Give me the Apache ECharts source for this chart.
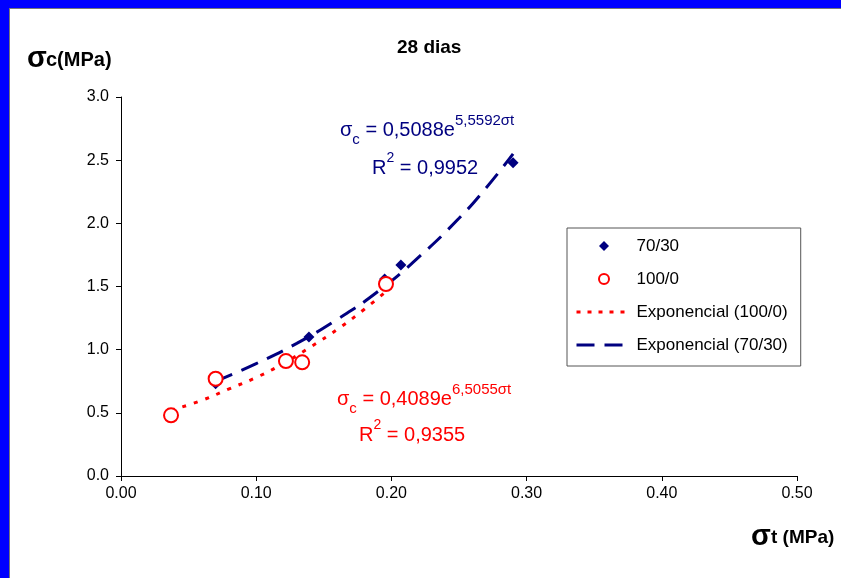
<!DOCTYPE html>
<html>
<head>
<meta charset="utf-8">
<script src="https://cdn.jsdelivr.net/npm/echarts@6/dist/echarts.min.js"></script>
<style>
html,body{margin:0;padding:0;background:#fff;}
#c{width:841px;height:578px;}
</style>
</head>
<body>
<div id="c"></div>
<script>
// ---- data ----
const xTicks = [0.0, 0.1, 0.2, 0.3, 0.4, 0.5];
const yTicks = [0.0, 0.5, 1.0, 1.5, 2.0, 2.5, 3.0];
const s7030 = [[0.070, 0.73], [0.139, 1.10], [0.195, 1.56], [0.207, 1.67], [0.290, 2.48]];
const s1000 = [[0.037, 0.48], [0.070, 0.77], [0.122, 0.91], [0.134, 0.90], [0.196, 1.52]];
// trendline values
const trend1000 = [[0.037, 0.52], [0.06, 0.60], [0.08, 0.69], [0.10, 0.78], [0.12, 0.89], [0.14, 1.02], [0.16, 1.16], [0.18, 1.32], [0.196, 1.46]];
const trend7030 = [[0.070, 0.75], [0.10, 0.89], [0.13, 1.05], [0.16, 1.24], [0.19, 1.46], [0.22, 1.73], [0.25, 2.04], [0.27, 2.28], [0.290, 2.55]];
const names = ['70/30', '100/0', 'Exponencial (100/0)', 'Exponencial (70/30)'];

const FONT = 'Liberation Sans, Arial, sans-serif';
const NAVY = '#000080', RED = '#ff0000';
function eq(color, main, sup) {
  return {
    text: '{s|σ}{sub|c}{m| = ' + main + '}{sup|' + sup + '}', fill: color,
    rich: {
      s: {font: '20px ' + FONT, lineHeight: 34, fill: color},
      sub: {font: '15px ' + FONT, lineHeight: 24, verticalAlign: 'bottom', fill: color},
      m: {font: '20px ' + FONT, lineHeight: 34, fill: color},
      sup: {font: '15px ' + FONT, lineHeight: 8, verticalAlign: 'top', fill: color}}
  };
}
function r2(color, val) {
  return {
    text: '{m|R}{sup|2}{m| = ' + val + '}', fill: color,
    rich: {
      m: {font: '20px ' + FONT, lineHeight: 34, fill: color},
      sup: {font: '14px ' + FONT, lineHeight: 12, verticalAlign: 'top', fill: color}}
  };
}
const chart = echarts.init(document.getElementById('c'), null, {renderer: 'canvas'});
chart.setOption({
  backgroundColor: '#fff',
  animation: false,
  grid: {left: 121, right: 44, top: 97, bottom: 102},
  xAxis: {
    type: 'value', min: 0, max: 0.5, interval: 0.1,
    axisLine: {lineStyle: {color: '#000', width: 1}},
    axisTick: {show: true, length: 5, lineStyle: {color: '#000'}},
    splitLine: {show: false},
    axisLabel: {color: '#000', fontSize: 16, fontFamily: FONT, margin: 10,
      formatter: v => { const t = xTicks.find(a => Math.abs(a - v) < 1e-9); return (t !== undefined ? t : v).toFixed(2); }}
  },
  yAxis: {
    type: 'value', min: 0, max: 3, interval: 0.5,
    axisLine: {show: true, lineStyle: {color: '#000', width: 1}},
    axisTick: {show: true, length: 5, lineStyle: {color: '#000'}},
    splitLine: {show: false},
    axisLabel: {color: '#000', fontSize: 16, fontFamily: FONT, margin: 12,
      formatter: v => { const t = yTicks.find(a => Math.abs(a - v) < 1e-9); return (t !== undefined ? t : v).toFixed(1); }}
  },
  legend: {
    orient: 'vertical', left: 567, top: 228,
    data: [
      {name: names[0], icon: 'path://M5,0L10,5L5,10L0,5Z'},
      {name: names[1], icon: 'emptyCircle'},
      {name: names[2], itemStyle: {opacity: 0}, lineStyle: {width: 3, type: [4, 7]}},
      {name: names[3], itemStyle: {opacity: 0}, lineStyle: {width: 3, type: [18, 10]}}
    ],
    symbolKeepAspect: true,
    itemWidth: 55, itemHeight: 10, itemGap: 15,
    padding: [9, 13, 12, 8],
    borderColor: '#555', borderWidth: 1,
    textStyle: {color: '#000', fontSize: 17, fontFamily: FONT, lineHeight: 18}
  },
  series: [
    {name: names[2], type: 'line', data: trend1000, smooth: true, symbol: 'none', z: 2,
      lineStyle: {color: RED, width: 3, type: [4, 8]}, itemStyle: {color: RED}},
    {name: names[3], type: 'line', data: trend7030, smooth: true, symbol: 'none', z: 2,
      lineStyle: {color: NAVY, width: 3, type: [18, 10]}, itemStyle: {color: NAVY}},
    {name: names[0], type: 'scatter', data: s7030, symbol: 'diamond', symbolSize: 11, z: 3,
      itemStyle: {color: NAVY, opacity: 1}},
    {name: names[1], type: 'scatter', data: s1000, symbol: 'emptyCircle', symbolSize: 14, z: 4,
      itemStyle: {color: RED, borderColor: RED, borderWidth: 1.5, opacity: 1}}
  ],
  graphic: [
    {type: 'rect', shape: {x: 0, y: 0, width: 841, height: 8}, style: {fill: '#0000ff'}, silent: true, z: 10},
    {type: 'rect', shape: {x: 0, y: 0, width: 9, height: 578}, style: {fill: '#0000ff'}, silent: true, z: 10},
    {type: 'line', shape: {x1: 9, y1: 8.5, x2: 841, y2: 8.5}, style: {stroke: '#777', lineWidth: 1}, silent: true, z: 10},
    {type: 'line', shape: {x1: 9.5, y1: 8, x2: 9.5, y2: 578}, style: {stroke: '#777', lineWidth: 1}, silent: true, z: 10},
    {type: 'text', left: 397, top: 38, style: {text: '28 dias', font: 'bold 19px ' + FONT, fill: '#000'}},
    {type: 'text', left: 27, top: 44, style: {text: 'σ', font: 'bold 29px ' + FONT, fill: '#000'}},
    {type: 'text', left: 46, top: 50, style: {text: 'c(MPa)', font: 'bold 20px ' + FONT, fill: '#000'}},
    {type: 'text', left: 751, top: 522, style: {text: 'σ', font: 'bold 29px ' + FONT, fill: '#000'}},
    {type: 'text', left: 771, top: 528, style: {text: 't (MPa)', font: 'bold 19px ' + FONT, fill: '#000'}},
    {type: 'text', left: 340, top: 113, style: eq(NAVY, '0,5088e', '5,5592σt')},
    {type: 'text', left: 372, top: 151, style: r2(NAVY, '0,9952')},
    {type: 'text', left: 337, top: 382, style: eq(RED, '0,4089e', '6,5055σt')},
    {type: 'text', left: 359, top: 418, style: r2(RED, '0,9355')}
  ]
});
</script>
</body>
</html>
